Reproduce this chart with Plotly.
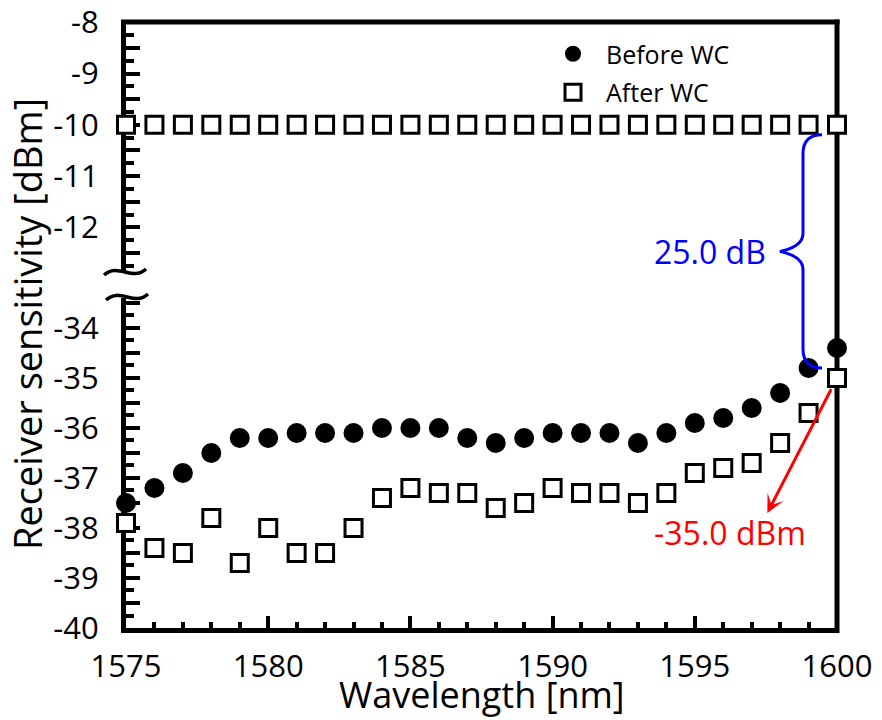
import plotly.graph_objects as go

# ---- data -----------------------------------------------------------------
wavelength_nm = [1575, 1576, 1577, 1578, 1579, 1580, 1581, 1582, 1583, 1584,
                 1585, 1586, 1587, 1588, 1589, 1590, 1591, 1592, 1593, 1594,
                 1595, 1596, 1597, 1598, 1599, 1600]

before_wc_dbm = [-37.5, -37.2, -36.9, -36.5, -36.2, -36.2, -36.1, -36.1, -36.1, -36.0,
                 -36.0, -36.0, -36.2, -36.3, -36.2, -36.1, -36.1, -36.1, -36.3, -36.1,
                 -35.9, -35.8, -35.6, -35.3, -34.8, -34.4]

after_wc_dbm = [-37.9, -38.4, -38.5, -37.8, -38.7, -38.0, -38.5, -38.5, -38.0, -37.4,
                -37.2, -37.3, -37.3, -37.6, -37.5, -37.2, -37.3, -37.3, -37.5, -37.3,
                -36.9, -36.8, -36.7, -36.3, -35.7, -35.0]

upper_level_dbm = [-10.0, -10.0, -10.0, -10.0, -10.0, -10.0, -10.0, -10.0, -10.0, -10.0,
                   -10.0, -10.0, -10.0, -10.0, -10.0, -10.0, -10.0, -10.0, -10.0, -10.0,
                   -10.0, -10.0, -10.0, -10.0, -10.0, -10.0]

x_tick_labels = ["1575", "1580", "1585", "1590", "1595", "1600"]
upper_tick_labels = ["-8", "-9", "-10", "-11", "-12"]
lower_tick_labels = ["-34", "-35", "-36", "-37", "-38", "-39", "-40"]

x_range = [1575, 1600]
upper_range = [-12.89, -7.995]
lower_range = [-40.0, -33.4]

# label anchors for the red call-out (data units)
arrow_tip = (1597.55, -37.7)
red_label_pos = (1596.25, -38.1)

# ---- geometry -------------------------------------------------------------
W, H = 882, 720
L, R, T, B = 126, 45, 22, 92
PW, PH = W - L - R, H - T - B
upper_domain = [0.5858, 1.0]
lower_domain = [0.0, 0.5446]

FONT = "Open Sans, Noto Sans, sans-serif"


def xpix(v):
    return L + (v - x_range[0]) / (x_range[1] - x_range[0]) * PW


def ypix_upper(v):
    span = (upper_domain[1] - upper_domain[0]) * PH
    return T + (upper_range[1] - v) / (upper_range[1] - upper_range[0]) * span


def ypix_lower(v):
    span = (lower_domain[1] - lower_domain[0]) * PH
    return T + PH - (v - lower_range[0]) / (lower_range[1] - lower_range[0]) * span


def paper(px, py):
    return (px - L) / PW, (T + PH - py) / PH


def pp(px, py):
    x, y = paper(px, py)
    return f"{x:.5f},{y:.5f}"


def tick_arrays(labels, rng):
    """Labelled ticks at each integer plus unlabelled ticks at the half steps."""
    lo, hi = min(rng), max(rng)
    ticks = {}
    for lab in labels:
        v = float(lab)
        ticks[v] = lab
        for h in (v - 0.5, v + 0.5):
            if lo <= h <= hi and h not in ticks:
                ticks[h] = ""
    vals = sorted(ticks)
    return vals, [ticks[v] for v in vals]


# ---- traces ---------------------------------------------------------------
fig = go.Figure()

fig.add_trace(go.Scatter(
    x=wavelength_nm, y=before_wc_dbm, mode="markers", name="Before WC",
    marker=dict(symbol="circle", size=20, color="black", line=dict(width=0)),
    cliponaxis=False, xaxis="x", yaxis="y", legendgroup="before",
))

square_marker = dict(symbol="square", size=17, color="white",
                     line=dict(width=3, color="black"))

fig.add_trace(go.Scatter(
    x=wavelength_nm, y=after_wc_dbm, mode="markers", name="After WC",
    marker=square_marker, cliponaxis=False, xaxis="x", yaxis="y",
    legendgroup="after",
))

fig.add_trace(go.Scatter(
    x=wavelength_nm, y=upper_level_dbm, mode="markers", name="After WC",
    marker=square_marker, cliponaxis=False, xaxis="x", yaxis="y2",
    legendgroup="after", showlegend=False,
))

# ---- axes -----------------------------------------------------------------
tickfont = dict(family=FONT, size=31, color="black")
common = dict(showline=True, linecolor="black", linewidth=5, ticks="inside",
              tickcolor="black", tickwidth=4, showgrid=False, zeroline=False,
              layer="below traces", tickfont=tickfont, ticklabeloverflow="allow")

y_minor = dict(tickmode="linear", tick0=0, dtick=0.25, ticks="inside", ticklen=8,
               tickwidth=4, tickcolor="black", showgrid=False)

up_vals, up_text = tick_arrays(upper_tick_labels, upper_range)
lo_vals, lo_text = tick_arrays(lower_tick_labels, lower_range)

fig.update_layout(
    width=W, height=H,
    margin=dict(l=L, r=R, t=T, b=B, autoexpand=False),
    paper_bgcolor="white", plot_bgcolor="white",
    font=dict(family=FONT, color="black"),
    xaxis=dict(common, range=x_range, tickmode="array",
               tickvals=[float(s) for s in x_tick_labels], ticktext=x_tick_labels,
               ticklen=12, anchor="y", ticklabelstandoff=7,
               minor=dict(tickmode="linear", tick0=1575, dtick=1, ticks="inside",
                          ticklen=6, tickwidth=4, tickcolor="black", showgrid=False)),
    yaxis=dict(common, domain=lower_domain, range=lower_range, anchor="x",
               tickmode="array", tickvals=lo_vals, ticktext=lo_text,
               ticklen=14, ticklabelstandoff=16, minor=y_minor),
    yaxis2=dict(common, domain=upper_domain, range=upper_range, anchor="x",
                tickmode="array", tickvals=up_vals, ticktext=up_text,
                ticklen=14, ticklabelstandoff=16, minor=y_minor),
    legend=dict(x=(540 - L) / PW, y=(T + PH - 31) / PH, xanchor="left", yanchor="top",
                font=dict(family=FONT, size=25, color="black"),
                itemwidth=56, bgcolor="rgba(0,0,0,0)", borderwidth=0,
                tracegroupgap=3),
    showlegend=True,
)

# ---- frame (top and right edges) and axis-break marks -----------------------
shapes = []
x_left, x_right = xpix(x_range[0]), xpix(x_range[1])
y_top, y_bottom = T, T + PH
shapes.append(dict(type="line", xref="paper", yref="paper", layer="below",
                   x0=paper(x_left - 5, y_top)[0], x1=paper(x_right + 2.5, y_top)[0],
                   y0=1, y1=1, line=dict(color="black", width=5)))
shapes.append(dict(type="line", xref="paper", yref="paper", layer="below",
                   x0=1, x1=1, y0=paper(0, y_bottom + 5)[1], y1=paper(0, y_top - 2.5)[1],
                   line=dict(color="black", width=5)))


def tilde(cx, cy):
    return (f"M {pp(cx - 21, cy + 3)} C {pp(cx - 7, cy - 10)} "
            f"{pp(cx + 7, cy + 10)} {pp(cx + 21, cy - 3)}")


upper_break_y = T + (1 - upper_domain[0]) * PH
lower_break_y = T + (1 - lower_domain[1]) * PH
for cx, cy in [(x_left - 1, upper_break_y - 1), (x_left + 1, lower_break_y - 1)]:
    shapes.append(dict(type="path", xref="paper", yref="paper", path=tilde(cx, cy),
                       line=dict(color="black", width=3.5)))

# ---- curly brace between the two levels at 1600 nm -----------------------
xc = xpix(wavelength_nm[-1])
yt = ypix_upper(upper_level_dbm[-1]) + 10
yb = ypix_lower(after_wc_dbm[-1]) - 10
ym = (yt + yb) / 2
x_end, x_bar, x_tip = xc - 15, xc - 34, xc - 57
brace = (f"M {pp(x_end, yt)} Q {pp(x_bar, yt)} {pp(x_bar, yt + 19)} "
         f"L {pp(x_bar, ym - 18)} Q {pp(x_bar, ym - 5)} {pp(x_tip, ym)} "
         f"Q {pp(x_bar, ym + 5)} {pp(x_bar, ym + 18)} "
         f"L {pp(x_bar, yb - 19)} Q {pp(x_bar, yb)} {pp(x_end, yb)}")
shapes.append(dict(type="path", xref="paper", yref="paper", path=brace,
                   line=dict(color="#0000ff", width=3)))

fig.update_layout(shapes=shapes)

# ---- annotations ------------------------------------------------------------
gap_db = upper_level_dbm[-1] - after_wc_dbm[-1]
annotations = [
    dict(xref="paper", yref="paper", x=paper(x_tip - 12, ym)[0], y=paper(0, ym)[1],
         text=f"{gap_db:.1f} dB", showarrow=False, xanchor="right", yanchor="middle",
         font=dict(family=FONT, size=32, color="#0000ff")),
    dict(xref="x", yref="y", x=arrow_tip[0], y=arrow_tip[1],
         axref="x", ayref="y", ax=wavelength_nm[-1], ay=after_wc_dbm[-1],
         text="", showarrow=True, arrowhead=3, arrowsize=1, arrowwidth=3,
         arrowcolor="red", arrowside="end+start", startarrowhead=0,
         startstandoff=11),
    dict(xref="x", yref="y", x=red_label_pos[0], y=red_label_pos[1],
         text=f"{after_wc_dbm[-1]:.1f} dBm", showarrow=False,
         xanchor="center", yanchor="middle",
         font=dict(family=FONT, size=32, color="red")),
    dict(xref="paper", yref="paper", x=paper(27, 0)[0], y=paper(0, 324)[1],
         text="Receiver sensitivity [dBm]", textangle=-90, showarrow=False,
         xanchor="center", yanchor="middle",
         font=dict(family=FONT, size=38, color="black")),
    dict(xref="paper", yref="paper", x=0.5, y=paper(0, 694)[1],
         text="Wavelength [nm]", showarrow=False,
         xanchor="center", yanchor="middle",
         font=dict(family=FONT, size=36, color="black")),
]
fig.update_layout(annotations=annotations)

fig.write_html("out.html")
